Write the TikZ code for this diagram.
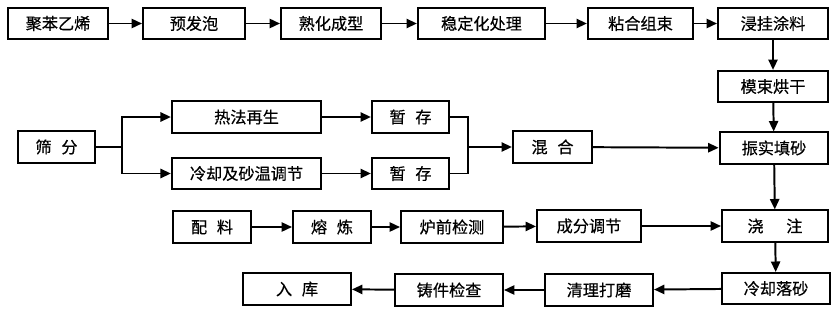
\documentclass[tikz,border=0pt]{standalone}
\usepackage{fontspec}
\setmainfont{Noto Sans CJK SC}[FakeBold=0.5]
\usetikzlibrary{arrows.meta}

\begin{document}
\begin{tikzpicture}[x=0.025cm, y=-0.025cm,
 box/.style={draw, line width=1.4pt, inner sep=0pt, minimum height=0.78cm, font=\fontsize{11.5}{12}\selectfont},
 arr/.style={-{Triangle[length=2.6mm, width=2.3mm]}, line width=1.4pt},
 ln/.style={line width=1.4pt}]
\useasboundingbox (0,0) rectangle (840,322);
% foam pattern line
\node[box, minimum width=2.5cm] (pe) at (58,23.5) {聚苯乙烯};
\node[box, minimum width=2.55cm] (pre) at (194,23.5) {预发泡};
\node[box, minimum width=2.5cm] (age) at (331,23.5) {熟化成型};
\node[box, minimum width=3.18cm] (stab) at (481.5,23.5) {稳定化处理};
\node[box, minimum width=2.63cm] (glue) at (640.5,23.5) {粘合组束};
\node[box, minimum width=2.75cm] (dip) at (773,23.5) {浸挂涂料};
\node[box, minimum width=2.75cm] (dry) at (773,86.5) {模束烘干};
% sand line
\node[box, minimum width=1.93cm] (sieve) at (56.5,147) {筛\hspace{0.6em}分};
\node[box, minimum width=3.73cm] (hot) at (246.5,117) {热法再生};
\node[box, minimum width=3.73cm] (cool) at (246.5,173.5) {冷却及砂温调节};
\node[box, minimum width=1.93cm] (st1) at (410.5,117) {暂\hspace{0.6em}存};
\node[box, minimum width=1.93cm] (st2) at (410.5,173.5) {暂\hspace{0.6em}存};
\node[box, minimum width=1.98cm] (mix) at (552.5,147) {混\hspace{0.6em}合};
\node[box, minimum width=2.72cm] (fill) at (774,148) {振实填砂};
% metal line
\node[box, minimum width=1.95cm] (batch) at (212,227) {配\hspace{0.6em}料};
\node[box, minimum width=1.95cm] (melt) at (332,227) {熔\hspace{0.6em}炼};
\node[box, minimum width=2.55cm] (test) at (452,227) {炉前检测};
\node[box, minimum width=2.6cm] (adj) at (589,226) {成分调节};
\node[box, minimum width=2.65cm] (pour) at (775,226) {浇\hspace{1.4em}注};
% finishing
\node[box, minimum width=2.68cm] (shake) at (776,288.5) {冷却落砂};
\node[box, minimum width=2.7cm] (clean) at (599,290) {清理打磨};
\node[box, minimum width=2.7cm] (insp) at (449,290) {铸件检查};
\node[box, minimum width=2.7cm] (store) at (297,289) {入\hspace{0.6em}库};
\coordinate (fork) at (122,147);
\coordinate (join) at (468,147);
\draw[arr] (pe) -- (pre);
\draw[arr] (pre) -- (age);
\draw[arr] (age) -- (stab);
\draw[arr] (stab) -- (glue);
\draw[arr] (glue) -- (dip);
\draw[arr] (dip) -- (dry);
\draw[arr] (dry) -- (fill);
\draw[ln] (sieve.east) -- (fork);
\draw[arr] (fork) |- (hot.west);
\draw[arr] (fork) |- (cool.west);
\draw[arr] (hot) -- (st1);
\draw[arr] (cool) -- (st2);
\draw[ln] (st1.east) -| (join);
\draw[ln] (st2.east) -| (join);
\draw[arr] (join) -- (mix.west);
\draw[arr] (mix) -- (fill);
\draw[arr] (batch) -- (melt);
\draw[arr] (melt) -- (test);
\draw[arr] (test) -- (adj);
\draw[arr] (adj) -- (pour);
\draw[arr] (fill) -- (pour);
\draw[arr] (pour) -- (shake);
\draw[arr] (shake) -- (clean);
\draw[arr] (clean) -- (insp);
\draw[arr] (insp) -- (store);
\end{tikzpicture}
\end{document}
